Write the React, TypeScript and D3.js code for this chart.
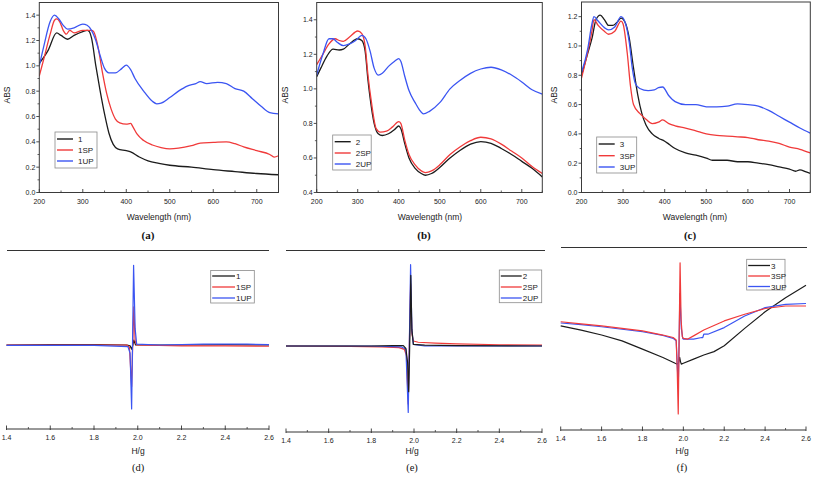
import React from 'react';
import * as d3 from 'd3';

const W = 813, H = 477;
const BLACK = '#1c1c1c', RED = '#f03a3a', BLUE = '#3b55f2';
const SANS = '"Liberation Sans", Arial, sans-serif';
const SERIF = '"Liberation Serif", "Times New Roman", serif';

type P = [number, number];

// ---------- UV-vis data (wavelength nm, ABS) ----------
const uv1: P[] = [[200,1.02],[220,1.12],[240,1.26],[250,1.24],[265,1.21],[280,1.24],[300,1.27],[310,1.28],[315,1.27],[320,1.22],[330,1.0],[340,0.8],[350,0.62],[360,0.47],[370,0.38],[380,0.345],[400,0.33],[410,0.32],[430,0.28],[450,0.25],[475,0.23],[500,0.215],[550,0.2],[600,0.18],[650,0.165],[700,0.15],[750,0.14]];
const uv1SP: P[] = [[200,0.92],[210,1.05],[225,1.25],[235,1.36],[240,1.37],[248,1.34],[255,1.28],[262,1.25],[270,1.28],[280,1.26],[300,1.28],[320,1.28],[325,1.27],[335,1.15],[345,0.95],[355,0.78],[365,0.66],[375,0.58],[385,0.55],[400,0.54],[410,0.545],[415,0.52],[425,0.46],[440,0.41],[460,0.375],[480,0.355],[500,0.345],[520,0.35],[550,0.37],[570,0.39],[600,0.395],[630,0.4],[650,0.385],[670,0.36],[700,0.33],[730,0.3],[740,0.28],[750,0.29]];
const uv1UP: P[] = [[200,1.0],[210,1.15],[225,1.35],[235,1.4],[245,1.37],[255,1.32],[265,1.29],[280,1.3],[300,1.33],[310,1.32],[320,1.28],[330,1.2],[340,1.08],[350,0.98],[360,0.945],[375,0.945],[390,0.98],[400,1.005],[410,0.97],[420,0.9],[440,0.8],[460,0.72],[470,0.7],[480,0.705],[500,0.75],[520,0.8],[540,0.84],[560,0.86],[570,0.875],[585,0.86],[610,0.87],[630,0.86],[650,0.82],[670,0.8],[690,0.74],[710,0.68],[730,0.63],[750,0.62]];

const uv2: P[] = [[200,1.07],[210,1.12],[225,1.19],[240,1.23],[255,1.225],[265,1.23],[280,1.26],[300,1.29],[310,1.28],[318,1.22],[325,1.05],[330,0.95],[340,0.8],[350,0.74],[360,0.73],[375,0.74],[390,0.765],[400,0.785],[405,0.77],[415,0.68],[425,0.6],[440,0.54],[455,0.51],[465,0.5],[480,0.51],[500,0.545],[525,0.6],[550,0.645],[575,0.68],[600,0.695],[625,0.685],[650,0.655],[675,0.62],[700,0.58],[725,0.54],[750,0.49]];
const uv2SP: P[] = [[200,1.14],[215,1.2],[230,1.26],[245,1.29],[255,1.28],[265,1.275],[280,1.3],[300,1.335],[310,1.32],[318,1.25],[325,1.08],[333,0.93],[345,0.77],[355,0.75],[370,0.755],[385,0.78],[400,0.81],[405,0.8],[415,0.7],[425,0.62],[440,0.56],[455,0.525],[465,0.515],[480,0.525],[500,0.56],[525,0.62],[550,0.665],[575,0.7],[600,0.72],[625,0.71],[650,0.68],[675,0.64],[700,0.6],[725,0.55],[750,0.51]];
const uv2UP: P[] = [[200,1.08],[215,1.2],[230,1.29],[240,1.29],[250,1.27],[265,1.25],[280,1.26],[295,1.28],[310,1.31],[320,1.29],[330,1.22],[340,1.12],[350,1.08],[360,1.09],[375,1.13],[390,1.16],[400,1.175],[405,1.16],[415,1.07],[425,0.99],[440,0.92],[450,0.88],[460,0.855],[475,0.87],[500,0.92],[525,1.0],[550,1.05],[575,1.09],[600,1.115],[625,1.125],[650,1.11],[675,1.08],[700,1.04],[725,0.995],[750,0.97]];

const uv3: P[] = [[200,0.8],[215,0.95],[225,1.05],[235,1.18],[245,1.21],[255,1.18],[265,1.14],[275,1.14],[285,1.16],[295,1.19],[305,1.16],[315,1.05],[325,0.85],[335,0.67],[345,0.54],[355,0.46],[370,0.4],[385,0.37],[400,0.35],[410,0.33],[425,0.3],[450,0.27],[475,0.255],[500,0.235],[515,0.22],[550,0.22],[575,0.21],[600,0.21],[625,0.2],[650,0.19],[675,0.175],[700,0.16],[715,0.145],[725,0.155],[740,0.14],[750,0.13]];
const uv3SP: P[] = [[200,0.78],[215,0.96],[225,1.1],[230,1.18],[240,1.14],[255,1.1],[265,1.08],[280,1.1],[295,1.17],[300,1.15],[310,0.95],[318,0.72],[325,0.6],[340,0.54],[355,0.5],[370,0.47],[385,0.48],[395,0.495],[410,0.47],[425,0.455],[450,0.44],[475,0.42],[500,0.4],[525,0.39],[550,0.385],[575,0.38],[600,0.375],[625,0.36],[650,0.35],[675,0.335],[700,0.31],[725,0.295],[750,0.27]];
const uv3UP: P[] = [[200,0.82],[215,0.98],[225,1.15],[230,1.2],[240,1.17],[255,1.125],[265,1.11],[280,1.13],[295,1.2],[305,1.16],[315,1.02],[322,0.85],[330,0.74],[340,0.71],[360,0.695],[375,0.7],[385,0.715],[395,0.72],[410,0.66],[425,0.62],[450,0.6],[475,0.6],[500,0.585],[525,0.585],[550,0.59],[575,0.605],[600,0.6],[625,0.59],[650,0.56],[675,0.52],[700,0.48],[725,0.44],[750,0.405]];

// ---------- EPR data (H/g, relative intensity) ----------
const epr1: P[] = [[1.4,0],[1.6,0.005],[1.8,0.005],[1.95,0],[1.965,-0.01],[1.972,-0.05],[1.978,0],[1.982,0.06],[1.99,0],[2.0,0],[2.2,0],[2.4,0.005],[2.6,0]];
const epr1SP: P[] = [[1.4,0],[1.6,0],[1.8,0],[1.95,0],[1.962,-0.03],[1.972,-0.5],[1.977,0],[1.982,0.46],[1.988,0.05],[1.995,0],[2.2,-0.01],[2.4,-0.01],[2.6,-0.015]];
const epr1UP: P[] = [[1.4,-0.005],[1.8,-0.005],[1.955,-0.02],[1.965,-0.1],[1.972,-0.77],[1.976,0],[1.981,0.96],[1.988,0.2],[1.995,0.01],[2.1,0],[2.3,0.01],[2.5,0.01],[2.6,0.005]];

const epr2: P[] = [[1.4,0],[1.6,0],[1.8,0],[1.9,0.005],[1.95,0.005],[1.962,-0.03],[1.97,-0.2],[1.975,-0.55],[1.979,-0.1],[1.982,0.3],[1.985,0.85],[1.99,0.2],[1.997,0.02],[2.05,0.01],[2.2,0.005],[2.6,0]];
const epr2SP: P[] = [[1.4,0],[1.7,-0.005],[1.85,-0.01],[1.93,-0.02],[1.955,-0.04],[1.965,-0.12],[1.973,-0.7],[1.978,0],[1.984,0.75],[1.99,0.15],[1.997,0.06],[2.02,0.045],[2.1,0.035],[2.2,0.025],[2.4,0.015],[2.6,0.01]];
const epr2UP: P[] = [[1.4,0],[1.8,0],[1.94,-0.01],[1.962,-0.04],[1.973,-0.8],[1.978,0],[1.984,0.98],[1.99,0.2],[1.997,0.02],[2.05,0],[2.6,0]];

const epr3: P[] = [[1.4,0.23],[1.5,0.18],[1.6,0.12],[1.7,0.05],[1.8,-0.05],[1.9,-0.15],[1.96,-0.22],[1.97,-0.23],[1.976,-0.22],[1.982,-0.15],[1.986,-0.2],[1.99,-0.23],[2.0,-0.22],[2.05,-0.17],[2.1,-0.12],[2.15,-0.08],[2.2,-0.01],[2.3,0.2],[2.4,0.4],[2.5,0.57],[2.6,0.72]];
const epr3SP: P[] = [[1.4,0.28],[1.5,0.255],[1.6,0.23],[1.7,0.2],[1.8,0.17],[1.9,0.12],[1.95,0.09],[1.965,0.06],[1.97,-0.3],[1.975,-0.83],[1.979,0],[1.984,0.99],[1.989,0.3],[1.995,0.1],[2.0,0.08],[2.02,0.07],[2.05,0.11],[2.1,0.18],[2.2,0.29],[2.3,0.37],[2.4,0.44],[2.5,0.47],[2.6,0.47]];
const epr3UP: P[] = [[1.4,0.265],[1.5,0.245],[1.6,0.22],[1.7,0.19],[1.8,0.16],[1.9,0.115],[1.95,0.08],[1.965,0.05],[1.975,-0.5],[1.979,0],[1.983,0.62],[1.99,0.2],[1.997,0.08],[2.0,0.07],[2.05,0.07],[2.09,0.09],[2.095,0.09],[2.1,0.13],[2.12,0.13],[2.2,0.21],[2.3,0.35],[2.4,0.45],[2.5,0.49],[2.6,0.5]];

// ---------- tick labels ----------
const wlTicks = [200, 300, 400, 500, 600, 700];
const wlMinor = [250, 350, 450, 550, 650, 750];
const absTicksA = [0, 0.2, 0.4, 0.6, 0.8, 1.0, 1.2, 1.4];
const absTicksB = [0.4, 0.6, 0.8, 1.0, 1.2, 1.4];
const absTicksC = [0, 0.2, 0.4, 0.6, 0.8, 1.0, 1.2];
const hTicks = [1.4, 1.6, 1.8, 2.0, 2.2, 2.4, 2.6];
const hMinor = [1.5, 1.7, 1.9, 2.1, 2.3, 2.5];

type Series = { name: string; color: string; data: P[] };

function UVPanel(props: {
  x0: number; x1: number; yTop: number; yBot: number; yDomain: [number, number];
  yTicks: number[]; series: Series[]; legend: { x: number; y: number; w: number; h: number; rows: number[] };
  absX: number; wlX: number; label: string; labelX: number;
}) {
  const { x0, x1, yTop, yBot, yDomain, yTicks, series, legend, absX, wlX, label, labelX } = props;
  const x = d3.scaleLinear().domain([200, 750]).range([x0, x1]);
  const y = d3.scaleLinear().domain(yDomain).range([yBot, yTop]);
  const line = d3.line<P>().x(d => x(d[0])).y(d => y(d[1])).curve(d3.curveMonotoneX);
  const minorY: number[] = [];
  for (let v = yDomain[0] + 0.1; v < yDomain[1] - 0.001; v += 0.2) minorY.push(+v.toFixed(2));
  const axisColor = '#3a3a3a';
  return (
    <g>
      <defs>
        <clipPath id={'clip' + label}><rect x={x0} y={yTop} width={x1 - x0} height={yBot - yTop} /></clipPath>
      </defs>
      <g clipPath={`url(#clip${label})`}>
        {series.map(s => (
          <path key={s.name} d={line(s.data) || ''} fill="none" stroke={s.color} strokeWidth={1.3} />
        ))}
      </g>
      <rect x={x0} y={yTop} width={x1 - x0} height={yBot - yTop} fill="none" stroke={axisColor} strokeWidth={1} />
      {wlTicks.map(t => (
        <g key={'xt' + t}>
          <line x1={x(t)} x2={x(t)} y1={yBot} y2={yBot - 3.5} stroke={axisColor} strokeWidth={0.9} />
          <text x={x(t)} y={yBot + 11} fontSize={7} fontFamily={SANS} textAnchor="middle" fill="#222">{t}</text>
        </g>
      ))}
      {wlMinor.map(t => (
        <line key={'xm' + t} x1={x(t)} x2={x(t)} y1={yBot} y2={yBot - 2} stroke={axisColor} strokeWidth={0.8} />
      ))}
      {yTicks.map(t => (
        <g key={'yt' + t}>
          <line x1={x0} x2={x0 - 3} y1={y(t)} y2={y(t)} stroke={axisColor} strokeWidth={0.9} />
          <text x={x0 - 4} y={y(t) + 2.5} fontSize={7} fontFamily={SANS} textAnchor="end" fill="#222">{t.toFixed(1)}</text>
        </g>
      ))}
      {minorY.map(t => (
        <line key={'ym' + t} x1={x0} x2={x0 - 1.8} y1={y(t)} y2={y(t)} stroke={axisColor} strokeWidth={0.8} />
      ))}
      <text transform={`translate(${absX},95) rotate(-90)`} fontSize={8.5} fontFamily={SANS} textAnchor="middle" fill="#222">ABS</text>
      <text x={wlX} y={220} fontSize={8.5} fontFamily={SANS} textAnchor="middle" fill="#222">Wavelength (nm)</text>
      <text x={labelX} y={239} fontSize={11} fontWeight="bold" fontFamily={SERIF} textAnchor="middle" fill="#111">({label})</text>
      <rect x={legend.x} y={legend.y} width={legend.w} height={legend.h} fill="#fff" stroke="#8a8a8a" strokeWidth={0.8} />
      {series.map((s, i) => (
        <g key={'lg' + s.name}>
          <line x1={legend.x + 2} x2={legend.x + 18} y1={legend.rows[i]} y2={legend.rows[i]} stroke={s.color} strokeWidth={1.4} />
          <text x={legend.x + 23} y={legend.rows[i] + 3} fontSize={8} fontFamily={SANS} fill="#222">{s.name}</text>
        </g>
      ))}
    </g>
  );
}

function EPRPanel(props: {
  x0: number; x1: number; axisY: number; zeroY: number; sepY: number; sepX0: number; sepX1: number;
  series: Series[]; order: number[]; legend: { x: number; y: number; w: number; h: number; rows: number[]; tx: number };
  label: string; labelX: number;
}) {
  const { x0, x1, axisY, zeroY, sepY, sepX0, sepX1, series, order, legend, label, labelX } = props;
  const x = d3.scaleLinear().domain([1.4, 2.6]).range([x0, x1]);
  const y = d3.scaleLinear().domain([-1, 1]).range([zeroY + 83, zeroY - 83]);
  const line = d3.line<P>().x(d => x(d[0])).y(d => y(d[1]));
  const axisColor = '#333';
  return (
    <g>
      <line x1={sepX0} x2={sepX1} y1={sepY} y2={sepY} stroke="#333" strokeWidth={1.2} />
      {order.map(i => (
        <path key={series[i].name} d={line(series[i].data) || ''} fill="none" stroke={series[i].color} strokeWidth={1.2} strokeLinejoin="round" />
      ))}
      <line x1={x0} x2={x1} y1={axisY} y2={axisY} stroke={axisColor} strokeWidth={1} />
      {hTicks.map(t => (
        <g key={'ht' + t}>
          <line x1={x(t)} x2={x(t)} y1={axisY + 1} y2={axisY - 3.5} stroke={axisColor} strokeWidth={0.9} />
          <text x={x(t)} y={axisY + 11} fontSize={7} fontFamily={SANS} textAnchor="middle" fill="#222">{t.toFixed(1)}</text>
        </g>
      ))}
      {hMinor.map(t => (
        <line key={'hm' + t} x1={x(t)} x2={x(t)} y1={axisY} y2={axisY - 2} stroke={axisColor} strokeWidth={0.8} />
      ))}
      <text x={labelX} y={454} fontSize={8.5} fontFamily={SANS} textAnchor="middle" fill="#222">H/g</text>
      <text x={labelX} y={471} fontSize={10.5} fontFamily={SERIF} textAnchor="middle" fill="#111">({label})</text>
      <rect x={legend.x} y={legend.y} width={legend.w} height={legend.h} fill="#fff" stroke="#8a8a8a" strokeWidth={0.8} />
      {series.map((s, i) => (
        <g key={'lg' + s.name}>
          <line x1={legend.x + 1.5} x2={legend.tx - 1} y1={legend.rows[i]} y2={legend.rows[i]} stroke={s.color} strokeWidth={1.3} />
          <text x={legend.tx} y={legend.rows[i] + 3} fontSize={8} fontFamily={SANS} fill="#222">{s.name}</text>
        </g>
      ))}
    </g>
  );
}

export default function App() {
  return (
    <svg width={W} height={H} style={{ position: 'absolute', left: 0, top: 0, background: '#fff' }}>
      <rect x={0} y={0} width={W} height={H} fill="#fff" />
      <UVPanel x0={39.3} x1={278.5} yTop={2.5} yBot={192.5} yDomain={[0, 1.5]} yTicks={absTicksA}
        series={[{ name: '1', color: BLACK, data: uv1 }, { name: '1SP', color: RED, data: uv1SP }, { name: '1UP', color: BLUE, data: uv1UP }]}
        legend={{ x: 55, y: 132, w: 42, h: 36, rows: [139, 150, 161] }} absX={10} wlX={159} label="a" labelX={148} />
      <UVPanel x0={316.7} x1={542.3} yTop={2.5} yBot={192.5} yDomain={[0.4, 1.5]} yTicks={absTicksB}
        series={[{ name: '2', color: BLACK, data: uv2 }, { name: '2SP', color: RED, data: uv2SP }, { name: '2UP', color: BLUE, data: uv2UP }]}
        legend={{ x: 332.7, y: 135, w: 38.5, h: 35, rows: [141.7, 153, 164] }} absX={288} wlX={430} label="b" labelX={424} />
      <UVPanel x0={581.5} x1={810.3} yTop={2} yBot={192.5} yDomain={[0, 1.3]} yTicks={absTicksC}
        series={[{ name: '3', color: BLACK, data: uv3 }, { name: '3SP', color: RED, data: uv3SP }, { name: '3UP', color: BLUE, data: uv3UP }]}
        legend={{ x: 596.7, y: 137, w: 40, h: 36, rows: [144, 155.7, 167] }} absX={557} wlX={695} label="c" labelX={690} />

      <EPRPanel x0={6.5} x1={269} axisY={429} zeroY={345} sepY={250.5} sepX0={7} sepX1={269}
        series={[{ name: '1', color: BLACK, data: epr1 }, { name: '1SP', color: RED, data: epr1SP }, { name: '1UP', color: BLUE, data: epr1UP }]}
        order={[0, 1, 2]} legend={{ x: 210.7, y: 270.5, w: 43.6, h: 32.5, rows: [276, 287, 298], tx: 236 }} label="d" labelX={138} />
      <EPRPanel x0={286} x1={542} axisY={432} zeroY={346} sepY={250.5} sepX0={286} sepX1={545}
        series={[{ name: '2', color: BLACK, data: epr2 }, { name: '2SP', color: RED, data: epr2SP }, { name: '2UP', color: BLUE, data: epr2UP }]}
        order={[1, 2, 0]} legend={{ x: 499.3, y: 270, w: 42.4, h: 32.7, rows: [276, 287, 298], tx: 522.7 }} label="e" labelX={412} />
      <EPRPanel x0={560.7} x1={806} axisY={430} zeroY={345} sepY={247.5} sepX0={561} sepX1={807}
        series={[{ name: '3', color: BLACK, data: epr3 }, { name: '3SP', color: RED, data: epr3SP }, { name: '3UP', color: BLUE, data: epr3UP }]}
        order={[0, 2, 1]} legend={{ x: 746.7, y: 259.3, w: 38.3, h: 30.7, rows: [265.5, 276, 286.5], tx: 771 }} label="f" labelX={682} />
    </svg>
  );
}
